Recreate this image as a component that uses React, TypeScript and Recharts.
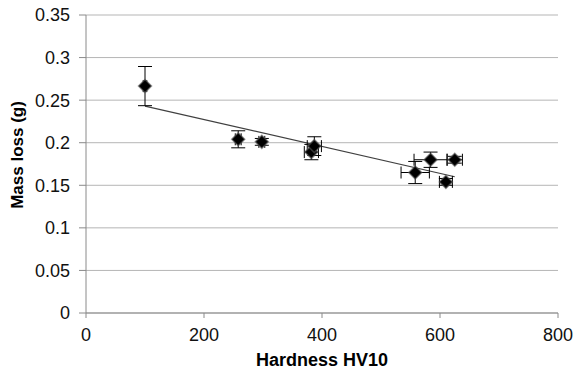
import React from 'react';
import {
  ScatterChart,
  Scatter,
  XAxis,
  YAxis,
  CartesianGrid,
  ErrorBar,
  ReferenceLine,
} from 'recharts';

// Hardness HV10 (x), mass loss in g (y), and their error half-widths
const hardness = [100, 258, 298, 382, 387, 558, 584, 625, 610];
const massLoss = [0.2665, 0.204, 0.201, 0.189, 0.196, 0.165, 0.18, 0.18, 0.154];
const hardnessErr = [3, 5, 5, 12, 12, 24, 28, 13, 11];
const massLossErr = [0.023, 0.01, 0.004, 0.009, 0.011, 0.013, 0.009, 0.004, 0.004];

// Linear trendline end points
const trendStart = { x: 100, y: 0.243 };
const trendEnd = { x: 625, y: 0.16 };

const xTicks = [0, 200, 400, 600, 800];
const yTicks = [0, 0.05, 0.1, 0.15, 0.2, 0.25, 0.3, 0.35];
const yTickLabels = ['0', '0.05', '0.1', '0.15', '0.2', '0.25', '0.3', '0.35'];

const data = hardness.map((x, i) => ({
  x,
  y: massLoss[i],
  ex: hardnessErr[i],
  ey: massLossErr[i],
}));

const FONT = '"Liberation Sans", Arial, sans-serif';
const AXIS = '#8a8a8a';
const GRID = '#b5b5b5';

const Diamond = (props: any) => {
  const { cx, cy } = props;
  if (cx == null || cy == null) return null;
  const r = 6.5;
  const pts = `${cx},${cy - r} ${cx + r},${cy} ${cx},${cy + r} ${cx - r},${cy}`;
  return (
    <g>
      <polygon points={pts} fill="#000" stroke="#555" strokeWidth={1.5} strokeOpacity={0.6} />
    </g>
  );
};

const XLabel = (props: any) => {
  const vb = props.viewBox || {};
  const cx = vb.x + vb.width / 2;
  return (
    <text x={cx} y={366} textAnchor="middle" fontFamily={FONT} fontWeight="bold" fontSize={18} fill="#000">
      Hardness HV10
    </text>
  );
};

const YLabel = () => {
  const x = 23;
  const y = 155;
  return (
    <text
      x={x}
      y={y}
      transform={`rotate(-90 ${x} ${y})`}
      textAnchor="middle"
      fontFamily={FONT}
      fontWeight="bold"
      fontSize={17}
      fill="#000"
    >
      Mass loss (g)
    </text>
  );
};

export default function App() {
  return (
    <div style={{ position: 'absolute', left: 0, top: 0, background: '#fff' }}>
      <ScatterChart
        width={575}
        height={371}
        margin={{ top: 15, right: 17, bottom: 0, left: 0 }}
      >
        <CartesianGrid horizontal vertical={false} stroke={GRID} strokeWidth={1} />
        <XAxis
          type="number"
          dataKey="x"
          domain={[0, 800]}
          ticks={xTicks}
          interval={0}
          stroke={AXIS}
          tickSize={5}
          tickMargin={10}
          tick={{ fill: '#111', fontSize: 18, fontFamily: FONT }}
          height={58}
          label={<XLabel />}
        />
        <YAxis
          type="number"
          dataKey="y"
          domain={[0, 0.35]}
          ticks={yTicks}
          interval={0}
          width={86}
          stroke={AXIS}
          tickSize={7}
          tickMargin={9}
          tickFormatter={(v: number) => yTickLabels[yTicks.indexOf(v)] ?? String(v)}
          tick={{ fill: '#111', fontSize: 18, fontFamily: FONT }}
          label={<YLabel />}
        />
        <ReferenceLine
          segment={[trendStart, trendEnd]}
          stroke="#404040"
          strokeWidth={1.2}
          ifOverflow="extendDomain"
        />
        <Scatter data={data} shape={<Diamond />} isAnimationActive={false}>
          <ErrorBar dataKey="ey" direction="y" width={7} stroke="#000" strokeWidth={1} />
          <ErrorBar dataKey="ex" direction="x" width={6} stroke="#000" strokeWidth={1} />
        </Scatter>
      </ScatterChart>
    </div>
  );
}
